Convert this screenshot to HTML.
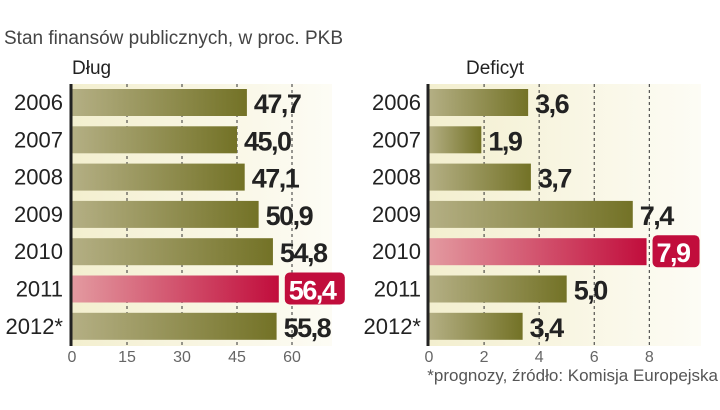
<!DOCTYPE html>
<html><head><meta charset="utf-8"><style>
body{margin:0;background:#fff;width:720px;height:405px;overflow:hidden;font-family:"Liberation Sans",sans-serif}
</style></head><body>
<svg width="720" height="405" xmlns="http://www.w3.org/2000/svg">
<defs>
<linearGradient id="bg" x1="0" x2="1"><stop offset="0" stop-color="#f3efcf"/><stop offset="1" stop-color="#fdfcf5"/></linearGradient>
<linearGradient id="ol" x1="0" x2="1"><stop offset="0" stop-color="#b4af84"/><stop offset="1" stop-color="#737226"/></linearGradient>
<linearGradient id="rd" x1="0" x2="1"><stop offset="0" stop-color="#e39aa0"/><stop offset="1" stop-color="#c10d3c"/></linearGradient>
</defs>
<text x="4" y="44" font-size="19" fill="#444">Stan finansów publicznych, w proc. PKB</text>
<text x="72" y="74" font-size="19" fill="#222">Dług</text>
<text x="466" y="74" font-size="19" fill="#222">Deficyt</text>
<text x="718" y="381" font-size="17" fill="#555" text-anchor="end">*prognozy, źródło: Komisja Europejska</text>
<g id="g"></g>
</svg>
<script>
const years=["2006","2007","2008","2009","2010","2011","2012*"];
const debt=[47.7,45.0,47.1,50.9,54.8,56.4,55.8];
const deficit=[3.6,1.9,3.7,7.4,7.9,5.0,3.4];
const debtTicks=[0,15,30,45,60];
const defTicks=[0,2,4,6,8];
const debtHi=5, defHi=4;
const NS="http://www.w3.org/2000/svg";
const g=document.getElementById('g');
function mk(t,a,p){const e=document.createElementNS(NS,t);for(const k in a)e.setAttribute(k,a[k]);(p||g).appendChild(e);return e;}
function panel(name,x0,scale,maxV,bgW,vals,ticks,hi,labelX){
  const xs=v=>x0+v*scale;
  const y=i=>89+i*37.3;
  const bg=mk('rect',{x:x0,y:84,width:bgW,height:262,fill:'url(#bg)'});
  
  
  ticks.forEach(t=>{if(t===0)return;
    const l=mk('line',{x1:xs(t),x2:xs(t),y1:84,y2:346,stroke:'#333','stroke-width':1,'stroke-dasharray':'3,3'});
    
    });
  vals.forEach((v,i)=>{
    const r=mk('rect',{x:x0,y:y(i),width:xs(v)-x0,height:27,fill:i===hi?'url(#rd)':'url(#ol)'});
    
    
    const yl=mk('text',{x:labelX,y:y(i)+21,'font-size':22,fill:'#222','text-anchor':'end'});yl.textContent=years[i];
    
    
    const s=v.toFixed(1).replace('.',',');
    if(i===hi){
      const w=s.length*13+8;
      const b=mk('rect',{x:xs(v)+6,y:y(i)-3,width:w,height:32,rx:5,fill:'#c10d3c'});
      
      
    }
    const vt=mk('text',{x:xs(v)+(i===hi?10:7),y:y(i)+24,'font-size':27,'font-weight':'bold',fill:i===hi?'#fff':'#222',style:'letter-spacing:-1.5px'});
    vt.textContent=s;
    
    
  });
  const ax=mk('line',{x1:x0-1,x2:x0-1,y1:84,y2:346,stroke:'#222','stroke-width':3});
  
  
  ticks.forEach(t=>{
    const tl=mk('text',{x:xs(t),y:362,'font-size':16,fill:'#666','text-anchor':'middle'});tl.textContent=t;
    
    });
}
panel('debt',72,220/60,60,260,debt,debtTicks,debtHi,63);
panel('deficit',429,220.3/8,8,272,deficit,defTicks,defHi,421);
</script>
</body></html>
